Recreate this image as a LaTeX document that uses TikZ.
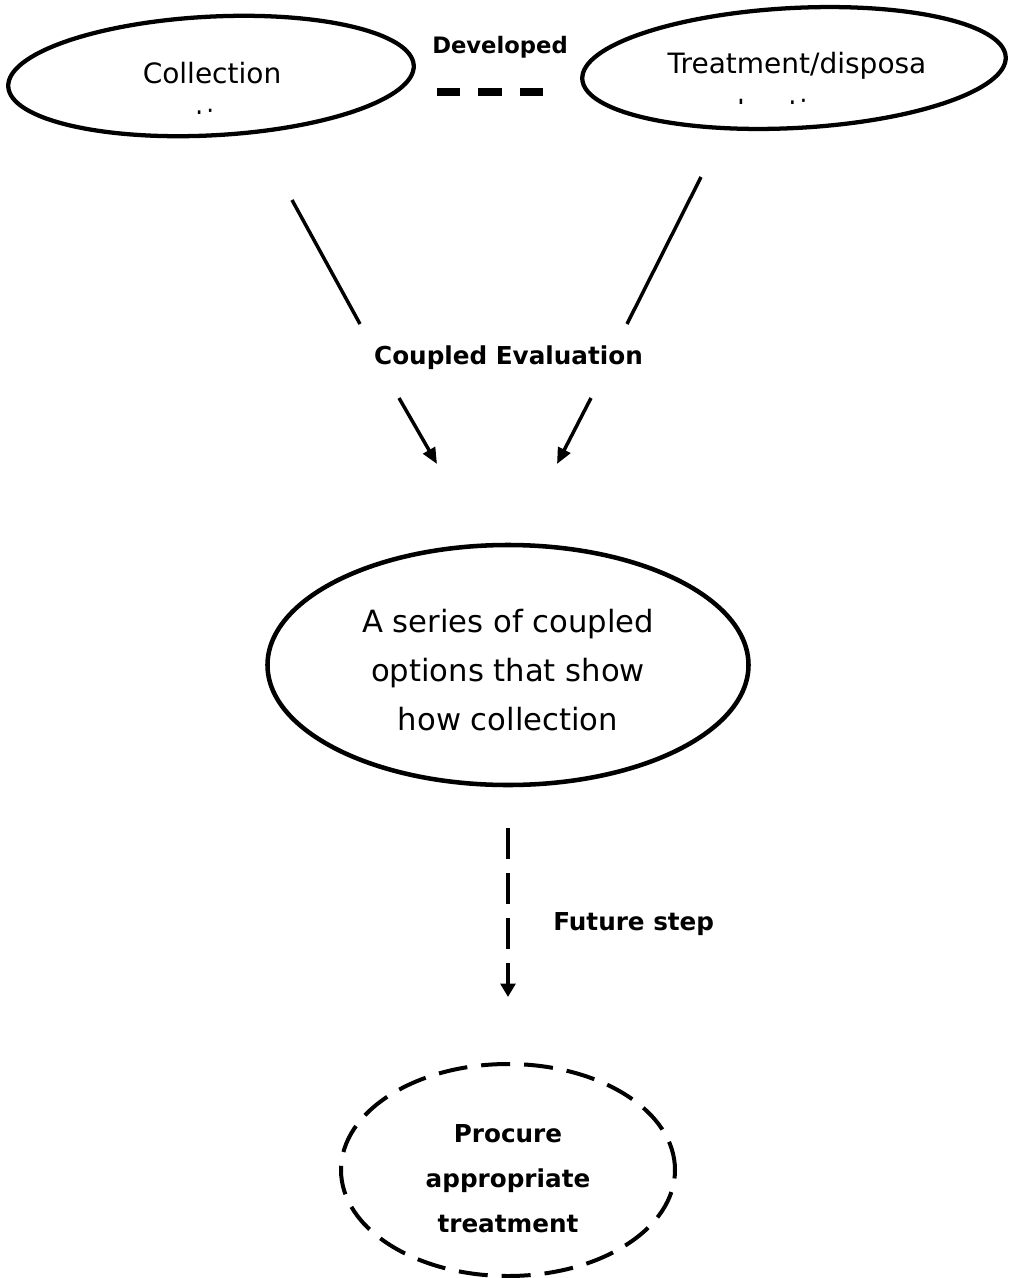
\documentclass[tikz,border=0pt]{standalone}
\usepackage{fontspec}
\setmainfont{DejaVu Sans}
\usetikzlibrary{arrows.meta,shapes.geometric}

\begin{document}
\begin{tikzpicture}[x=0.75pt, y=-0.75pt,
		oval/.style={ellipse, draw, line width=3.2pt, inner sep=0pt},
		ovaltext/.style={align=center, inner sep=0pt, anchor=base, font=\fontsize{21}{35.25}\selectfont},
		boldtext/.style={align=center, inner sep=0pt, anchor=base, font=\bfseries\fontsize{18.5}{33.4}\selectfont},
		plain/.style={line width=2.6pt},
		pointer/.style={line width=2.6pt, -{Triangle[length=12pt,width=10pt]}}]
		\useasboundingbox (0,0) rectangle (1010,1278);
		
		\node[oval, minimum width=304.5pt, minimum height=89pt, rotate=3] (collect) at (211,76) {};
		\node[oval, minimum width=318pt, minimum height=90pt, rotate=3] (treat) at (794,68) {};
		\begin{scope}
		\clip (0,0) rectangle (500,113);
		\node[ovaltext] (collecttext) at (212,130) {Collection\\options};
		\end{scope}
		\begin{scope}
		\clip (560,0) rectangle (1010,103);
		\node[ovaltext] (treattext) at (797,120) {Treatment/disposa\\l options};
		\end{scope}
		
		\node[boldtext, font=\bfseries\fontsize{17}{20}\selectfont] (developed) at (500,53) {Developed};
		\coordinate (d1) at (437,92);
		\coordinate (d2) at (545,92);
		\draw [line width=5.5pt, dash pattern=on 17.6pt off 13.5pt] (d1) to (d2);
		
		\node[boldtext] (coupled) at (508.5,364) {Coupled Evaluation};
		\coordinate (a1) at (292,200);
		\coordinate (a2) at (360,324);
		\coordinate (a3) at (399,398);
		\coordinate (a4) at (437,464);
		\coordinate (b1) at (701,177);
		\coordinate (b2) at (627,324);
		\coordinate (b3) at (591,398);
		\coordinate (b4) at (557,464);
		\draw [plain] (a1) to (a2);
		\draw [pointer] (a3) to (a4);
		\draw [plain] (b1) to (b2);
		\draw [pointer] (b3) to (b4);
		
		\node[oval, line width=3.4pt, minimum width=360.75pt, minimum height=180pt] (series) at (508,665) {};
		\node[ovaltext, font=\fontsize{23}{36.75}\selectfont] (seriestext) at (508,730) {A series of coupled\\options that show\\how collection};
		
		\node[oval, line width=3pt, dash pattern=on 21.75pt off 10.5pt, minimum width=250.5pt, minimum height=159pt] (procure) at (508,1170) {};
		\node[boldtext] (procuretext) at (508,1232) {Procure\\appropriate\\treatment};
		
		\draw [line width=2.5pt, dash pattern=on 23.25pt off 10.5pt, -{Triangle[length=10pt,width=11pt]}, shorten <=30.75pt, shorten >=48.75pt] (series) to (procure);
		\node[boldtext, anchor=base west] (future) at (553,930) {Future step};
		\end{tikzpicture}
\end{document}
